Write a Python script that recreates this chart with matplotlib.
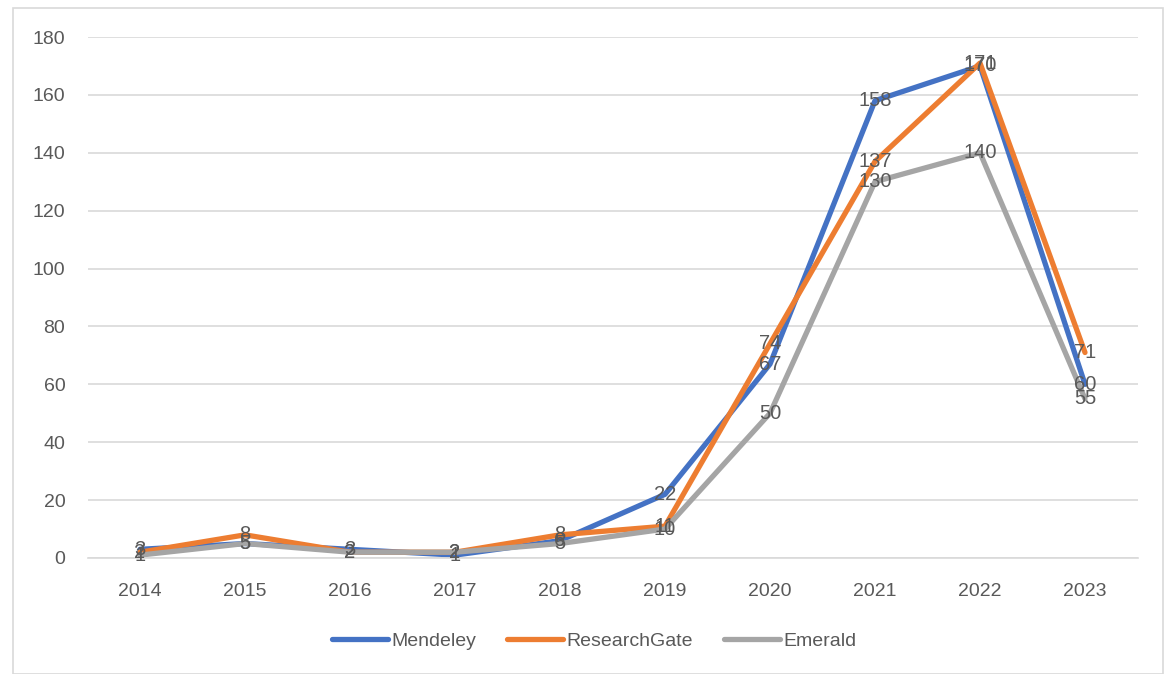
import matplotlib.pyplot as plt
import matplotlib.patches as patches

years = ["2014", "2015", "2016", "2017", "2018", "2019", "2020", "2021", "2022", "2023"]
mendeley = [3, 5, 3, 1, 6, 22, 67, 158, 170, 60]
researchgate = [2, 8, 2, 2, 8, 11, 74, 137, 171, 71]
emerald = [1, 5, 2, 2, 5, 10, 50, 130, 140, 55]

series = [("Mendeley", mendeley, "#4472C4"),
          ("ResearchGate", researchgate, "#ED7D31"),
          ("Emerald", emerald, "#A5A5A5")]

txt = "#595959"
plt.rcParams['font.family'] = ['Liberation Sans', 'DejaVu Sans']

fig = plt.figure(figsize=(11.68, 6.74), dpi=100)
ax = fig.add_axes([87.5 / 1168, 1 - 558 / 674, 1050 / 1168, (558 - 37) / 674])

# outer chart border
fig.patches.append(patches.Rectangle((13 / 1168, 0), 1150 / 1168, 1 - 8 / 674,
                                     transform=fig.transFigure, fill=False,
                                     edgecolor="#D9D9D9", linewidth=1.2))

x = list(range(len(years)))
for name, vals, col in series:
    ax.plot(x, vals, color=col, linewidth=3.8, label=name, solid_capstyle="round",
            solid_joinstyle="round")

for name, vals, col in series:
    for xi, v in zip(x, vals):
        ax.text(xi, v, str(v), ha="center", va="center", fontsize=14.5, color=txt)

ax.set_xlim(-0.5, len(years) - 0.5)
ax.set_ylim(0, 180)
ax.set_yticks(range(0, 181, 20))
ax.set_xticks(x)
ax.set_xticklabels(years)
ax.grid(axis="y", color="#D9D9D9", linewidth=1.2)
ax.set_axisbelow(True)
for s in ["top", "right", "left"]:
    ax.spines[s].set_visible(False)
ax.spines["bottom"].set_color("#D9D9D9")
ax.spines["bottom"].set_linewidth(1.2)
ax.tick_params(axis="both", length=0, labelsize=14, colors=txt)
ax.tick_params(axis="x", pad=18)
ax.tick_params(axis="y", pad=16)

leg = fig.legend(loc="center", bbox_to_anchor=(594 / 1168, 1 - 641 / 674), ncol=3,
                 frameon=False, fontsize=14, handlelength=2.9, handletextpad=0.15,
                 columnspacing=1.6)
for t in leg.get_texts():
    t.set_color(txt)

fig.savefig("out.png", dpi=100)
